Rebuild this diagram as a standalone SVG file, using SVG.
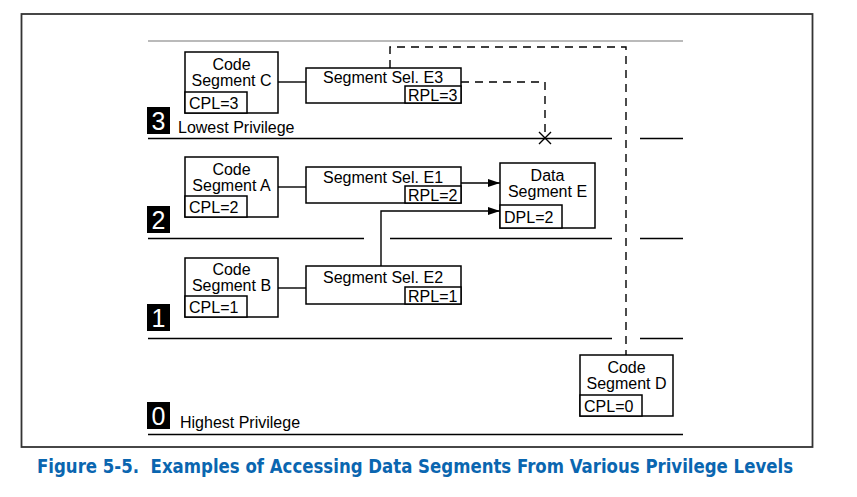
<svg xmlns="http://www.w3.org/2000/svg" width="857" height="497" viewBox="0 0 857 497">
<style>
.box{fill:#fff;stroke:#000;stroke-width:1.5}
.t{font-family:"Liberation Sans",Arial,sans-serif;font-size:16px;fill:#000}
.c{text-anchor:middle}
.lvl{stroke:#000;stroke-width:1.5;fill:none}
.ln{stroke:#000;stroke-width:1.4;fill:none}
.dash{stroke:#000;stroke-width:1.4;fill:none;stroke-dasharray:8 6}
.num{fill:#000}
.nt{font-family:"Liberation Sans",Arial,sans-serif;font-size:25px;fill:#fff;text-anchor:middle}
.cap{font-family:"Liberation Sans Narrow","DejaVu Sans Condensed","Liberation Sans",sans-serif;font-weight:bold;font-size:20px;fill:#0a66b0;white-space:pre}
</style>
<defs>
<marker id="arr" markerWidth="12" markerHeight="8" refX="12" refY="4" orient="auto" markerUnits="userSpaceOnUse">
<path d="M0,0 L12,4 L0,8 Z" fill="#000"/>
</marker>
</defs>
<rect width="857" height="497" fill="#fff"/>
<rect x="21.5" y="14" width="791" height="433" fill="none" stroke="#333" stroke-width="1.8"/>

<g id="levels">
<line x1="148" y1="41" x2="683" y2="41" stroke="#777" stroke-width="1.2"/>
<path class="lvl" d="M148,138.5H612 M640,138.5H683"/>
<path class="lvl" d="M148,238.5H364 M390,238.5H612 M640,238.5H683"/>
<path class="lvl" d="M148,338.5H612 M640,338.5H683"/>
<path class="lvl" d="M148,434.5H683"/>
</g>

<g id="level-labels">
<rect class="num" x="147" y="107" width="23" height="27"/>
<text class="nt" x="158.5" y="130">3</text>
<text class="t" x="178" y="133">Lowest Privilege</text>
<rect class="num" x="147" y="206" width="23" height="27"/>
<text class="nt" x="158.5" y="229">2</text>
<rect class="num" x="147" y="304" width="23" height="27"/>
<text class="nt" x="158.5" y="327">1</text>
<rect class="num" x="147" y="402" width="23" height="27"/>
<text class="nt" x="158.5" y="425">0</text>
<text class="t" x="180" y="428">Highest Privilege</text>
</g>

<g id="connectors">
<path class="ln" d="M278,82H306"/>
<path class="ln" d="M278,187H306"/>
<path class="ln" d="M278,288H306"/>
<path class="ln" d="M461,183H500" marker-end="url(#arr)"/>
<path class="ln" d="M381,266V211H500" marker-end="url(#arr)"/>
<path class="dash" d="M461,82H545V138"/>
<path class="dash" d="M390,68V47H626V355"/>
<path class="ln" d="M539,132L551,144 M551,132L539,144"/>
</g>

<g id="code-segment-c">
<rect class="box" x="185" y="52" width="93" height="61"/>
<rect class="box" x="185" y="92" width="62" height="21"/>
<text class="t c" x="231.5" y="70">Code</text>
<text class="t c" x="231.5" y="86">Segment C</text>
<text class="t" x="189" y="109">CPL=3</text>
</g>

<g id="segment-sel-e3">
<rect class="box" x="306" y="68" width="155" height="35"/>
<rect class="box" x="405" y="86" width="56" height="17"/>
<text class="t c" x="383" y="83">Segment Sel. E3</text>
<text class="t" x="408" y="101">RPL=3</text>
</g>

<g id="code-segment-a">
<rect class="box" x="185" y="157" width="93" height="60"/>
<rect class="box" x="185" y="196" width="62" height="21"/>
<text class="t c" x="231.5" y="175">Code</text>
<text class="t c" x="231.5" y="191">Segment A</text>
<text class="t" x="189" y="213">CPL=2</text>
</g>

<g id="segment-sel-e1">
<rect class="box" x="306" y="167" width="155" height="36"/>
<rect class="box" x="405" y="186" width="56" height="17"/>
<text class="t c" x="383" y="183">Segment Sel. E1</text>
<text class="t" x="408" y="201">RPL=2</text>
</g>

<g id="data-segment-e">
<rect class="box" x="500" y="163" width="95" height="65"/>
<rect class="box" x="500" y="205" width="62" height="23"/>
<text class="t c" x="547.5" y="181">Data</text>
<text class="t c" x="547.5" y="197">Segment E</text>
<text class="t" x="504" y="223">DPL=2</text>
</g>

<g id="code-segment-b">
<rect class="box" x="185" y="258" width="93" height="59"/>
<rect class="box" x="185" y="296" width="62" height="21"/>
<text class="t c" x="231.5" y="275">Code</text>
<text class="t c" x="231.5" y="291">Segment B</text>
<text class="t" x="189" y="313">CPL=1</text>
</g>

<g id="segment-sel-e2">
<rect class="box" x="306" y="266" width="155" height="38"/>
<rect class="box" x="405" y="287" width="56" height="17"/>
<text class="t c" x="383" y="283">Segment Sel. E2</text>
<text class="t" x="408" y="302">RPL=1</text>
</g>

<g id="code-segment-d">
<rect class="box" x="580" y="355" width="93" height="61"/>
<rect class="box" x="580" y="395" width="62" height="21"/>
<text class="t c" x="626.5" y="373">Code</text>
<text class="t c" x="626.5" y="389">Segment D</text>
<text class="t" x="584" y="412">CPL=0</text>
</g>

<text class="cap" x="37" y="473" textLength="756" lengthAdjust="spacingAndGlyphs">Figure 5-5.  Examples of Accessing Data Segments From Various Privilege Levels</text>
</svg>
